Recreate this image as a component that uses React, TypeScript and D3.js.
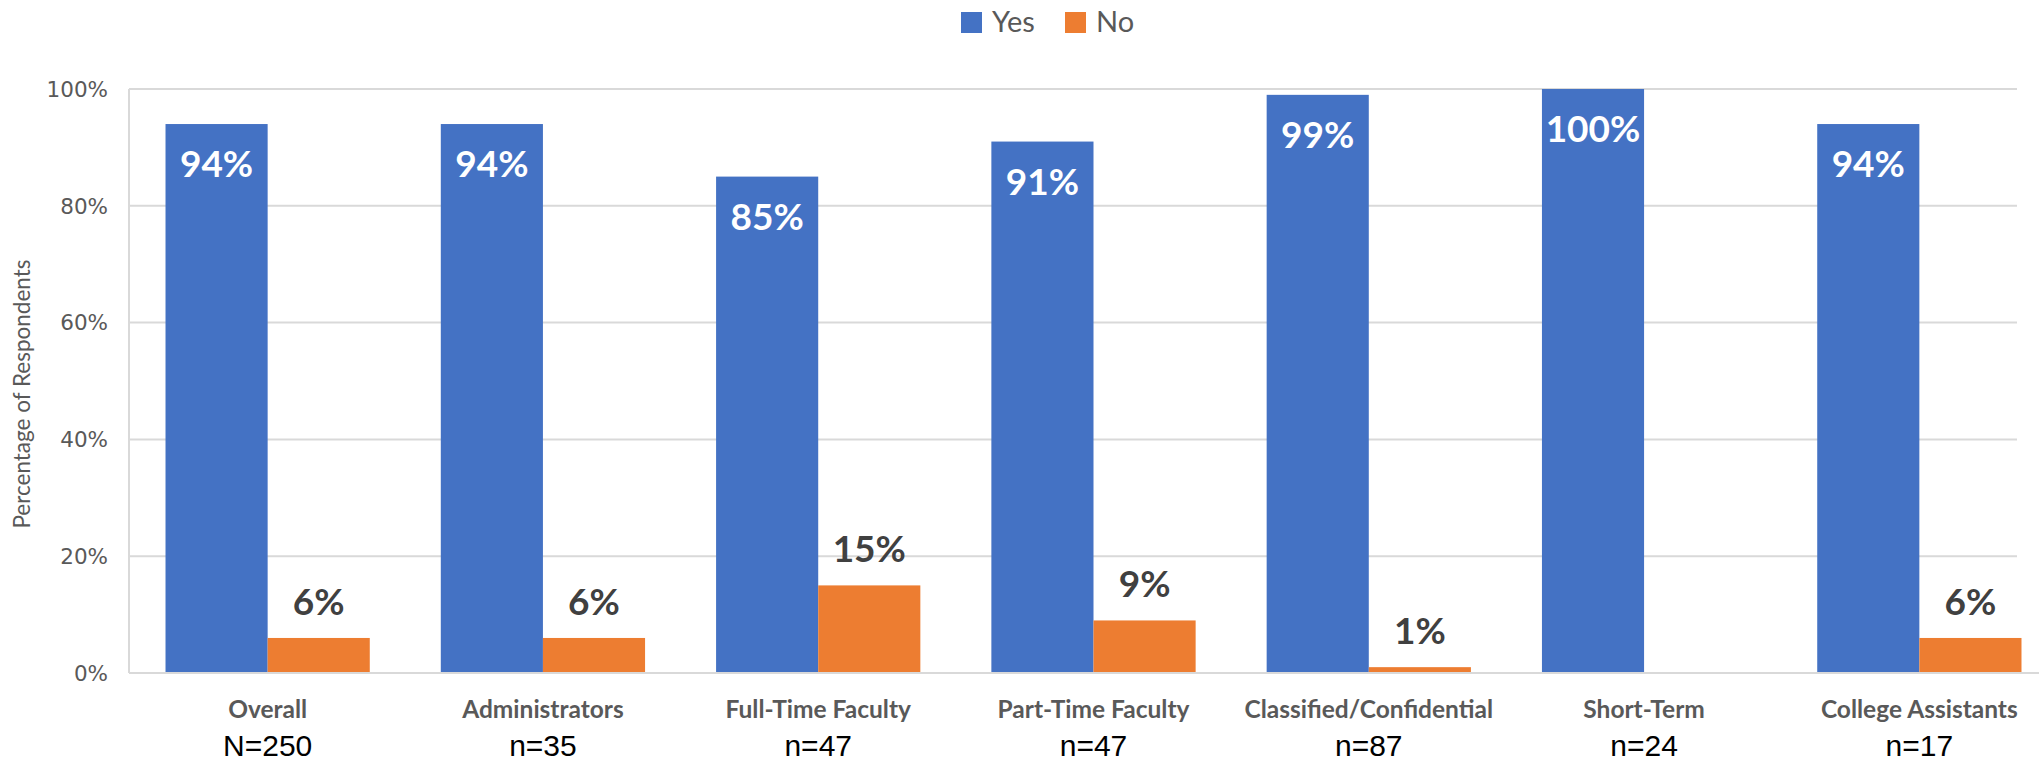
import React, { useEffect, useRef } from "react";
import * as d3 from "d3";

const categories = [
  "Overall",
  "Administrators",
  "Full-Time Faculty",
  "Part-Time Faculty",
  "Classified/Confidential",
  "Short-Term",
  "College Assistants",
];
const sampleSizes = ["N=250", "n=35", "n=47", "n=47", "n=87", "n=24", "n=17"];
const seriesNames = ["Yes", "No"];
const yesValues = [94, 94, 85, 91, 99, 100, 94];
const noValues = [6, 6, 15, 9, 1, 0, 6];
const yTicks = [0, 20, 40, 60, 80, 100];

const colors: Record<string, string> = { Yes: "#4472C4", No: "#ED7D31" };

const App: React.FC = () => {
  const svgRef = useRef<SVGSVGElement>(null);

  useEffect(() => {
    if (!svgRef.current) return;
    const width = 2039;
    const height = 763;
    const plot = { left: 130, right: 2057, top: 89, bottom: 673, gridEnd: 2017 };

    const svg = d3.select(svgRef.current);
    svg.selectAll("*").remove();
    svg.attr("width", width).attr("height", height).attr("viewBox", `0 0 ${width} ${height}`);

    const x0 = d3
      .scaleBand()
      .domain(categories)
      .range([plot.left, plot.right])
      .paddingInner(0.258)
      .paddingOuter(0.129);
    const x1 = d3.scaleBand().domain(seriesNames).range([0, x0.bandwidth()]);
    const y = d3.scaleLinear().domain([0, 100]).range([plot.bottom, plot.top]);

    // gridlines
    svg
      .append("g")
      .selectAll("line")
      .data(yTicks.filter((t) => t > 0))
      .join("line")
      .attr("x1", plot.left - 1)
      .attr("x2", plot.gridEnd)
      .attr("y1", (d) => y(d))
      .attr("y2", (d) => y(d))
      .attr("stroke", "#d9d9d9")
      .attr("stroke-width", 2);

    // left axis line
    svg
      .append("line")
      .attr("x1", plot.left - 1)
      .attr("x2", plot.left - 1)
      .attr("y1", y(100))
      .attr("y2", y(0))
      .attr("stroke", "#d9d9d9")
      .attr("stroke-width", 2);

    // y tick labels
    svg
      .append("g")
      .selectAll("text")
      .data(yTicks)
      .join("text")
      .attr("x", 108)
      .attr("y", (d) => y(d))
      .attr("dy", "0.36em")
      .attr("text-anchor", "end")
      .attr("font-family", "'DejaVu Sans', sans-serif")
      .attr("font-size", 21.5)
      .attr("fill", "#595959")
      .text((d) => `${d}%`);

    // y axis title
    svg
      .append("text")
      .attr("transform", `translate(30, ${(plot.top + plot.bottom) / 2 + 13}) rotate(-90)`)
      .attr("text-anchor", "middle")
      .attr("font-family", "Lato, sans-serif")
      .attr("font-size", 22.5)
      .attr("fill", "#595959")
      .text("Percentage of Respondents");

    const rows = categories.map((c, i) => ({
      category: c,
      values: [
        { key: "Yes", value: yesValues[i] },
        { key: "No", value: noValues[i] },
      ],
    }));

    const groups = svg
      .append("g")
      .selectAll("g")
      .data(rows)
      .join("g")
      .attr("transform", (d) => `translate(${x0(d.category)},0)`);

    groups
      .selectAll("rect")
      .data((d) => d.values.filter((v) => v.value > 0))
      .join("rect")
      .attr("x", (d) => x1(d.key) || 0)
      .attr("width", x1.bandwidth())
      .attr("y", (d) => y(d.value))
      .attr("height", (d) => y(0) - y(d.value))
      .attr("fill", (d) => colors[d.key]);

    // baseline
    svg
      .append("line")
      .attr("x1", plot.left - 1)
      .attr("x2", width)
      .attr("y1", y(0))
      .attr("y2", y(0))
      .attr("stroke", "#d9d9d9")
      .attr("stroke-width", 2);

    // value labels
    groups
      .selectAll("text.val")
      .data((d) => d.values.filter((v) => v.value > 0))
      .join("text")
      .attr("class", "val")
      .attr("x", (d) => (x1(d.key) || 0) + x1.bandwidth() / 2)
      .attr("y", (d) => (d.key === "Yes" ? y(d.value) + 53 : y(d.value) - 23))
      .attr("text-anchor", "middle")
      .attr("font-family", "Lato, sans-serif")
      .attr("font-weight", "bold")
      .attr("font-size", 37)
      .attr("fill", (d) => (d.key === "Yes" ? "#ffffff" : "#404040"))
      .text((d) => `${d.value}%`);

    // category labels
    svg
      .append("g")
      .selectAll("text")
      .data(categories)
      .join("text")
      .attr("x", (d) => (x0(d) || 0) + x0.bandwidth() / 2)
      .attr("y", 718)
      .attr("text-anchor", "middle")
      .attr("font-family", "Lato, sans-serif")
      .attr("font-weight", "bold")
      .attr("font-size", 24.5)
      .attr("fill", "#595959")
      .text((d) => d);

    // sample sizes
    svg
      .append("g")
      .selectAll("text")
      .data(sampleSizes)
      .join("text")
      .attr("x", (_, i) => (x0(categories[i]) || 0) + x0.bandwidth() / 2)
      .attr("y", 756)
      .attr("text-anchor", "middle")
      .attr("font-family", "'Liberation Sans', Arial, sans-serif")
      .attr("font-size", 30)
      .attr("fill", "#000000")
      .text((d) => d);

    // legend
    const legend = svg.append("g").attr("transform", "translate(961, 12)");
    const items = [
      { key: "Yes", x: 0 },
      { key: "No", x: 104 },
    ];
    items.forEach((it) => {
      legend
        .append("rect")
        .attr("x", it.x)
        .attr("y", 0)
        .attr("width", 21)
        .attr("height", 21)
        .attr("fill", colors[it.key]);
      legend
        .append("text")
        .attr("x", it.x + 31)
        .attr("y", 20)
        .attr("font-family", "Lato, sans-serif")
        .attr("font-size", 29)
        .attr("fill", "#595959")
        .text(it.key);
    });
  }, []);

  return (
    <svg
      ref={svgRef}
      style={{ position: "absolute", left: 0, top: 0, display: "block", background: "#fff" }}
    />
  );
};

export default App;
